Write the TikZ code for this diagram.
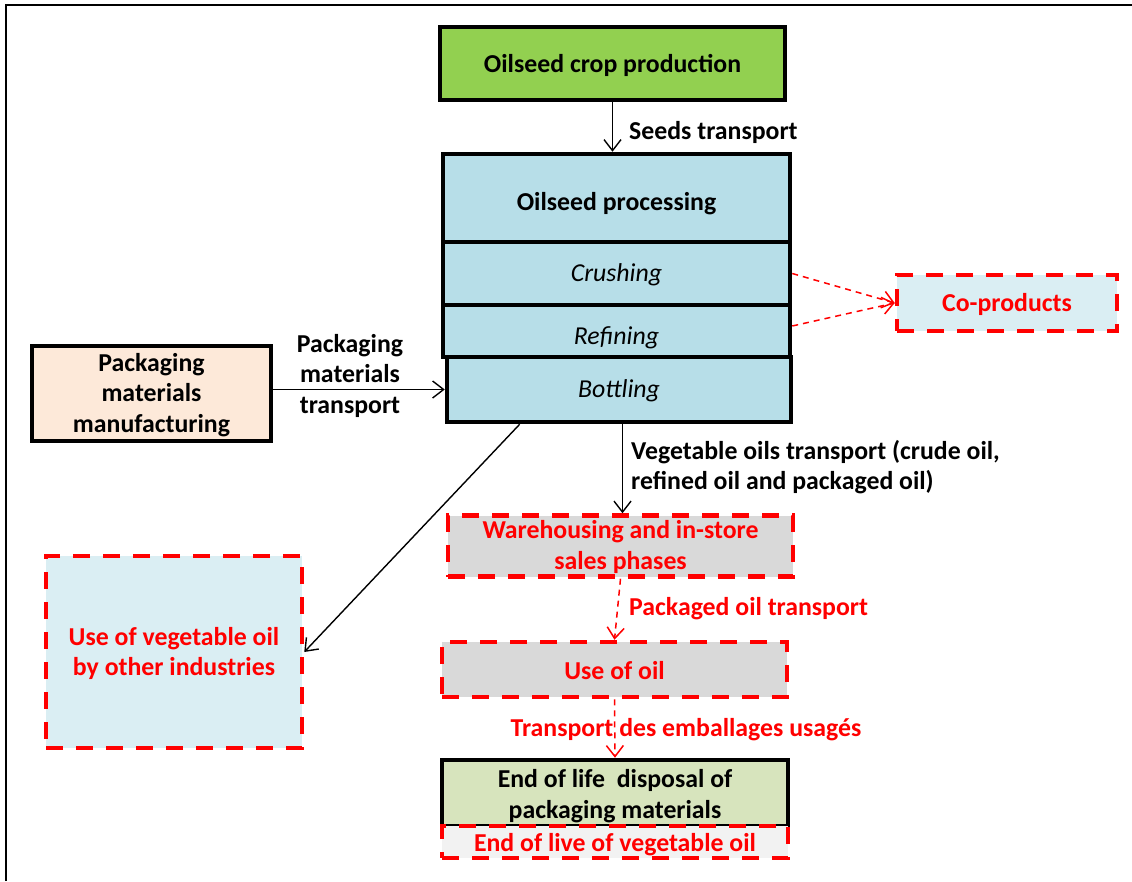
\documentclass[tikz,border=0pt]{standalone}
\usepackage{fontspec}
\setmainfont{Carlito}
\usetikzlibrary{arrows.meta,calc}
\definecolor{cropgreen}{HTML}{92D050}
\definecolor{procblue}{HTML}{B7DEE8}
\definecolor{paleblue}{HTML}{DAEEF3}
\definecolor{peach}{HTML}{FDE9D9}
\definecolor{boxgray}{HTML}{D9D9D9}
\definecolor{olive}{HTML}{D7E4BD}
\definecolor{lightgray}{HTML}{F2F2F2}
\definecolor{pured}{HTML}{FF0000}
\newcommand{\tsh}[2]{\raisebox{-#1}[\height][\depth]{\begin{tabular}{@{}c@{}}#2\end{tabular}}}
\tikzset{
  txt/.style={font=\fontsize{25.8}{30.5}\selectfont\bfseries, align=center, inner sep=0pt},
  solidbox/.style={txt, draw=black, line width=4.5pt},
  redbox/.style={txt, draw=pured, text=pured, line width=4.5pt, dash pattern=on 17pt off 13pt},
  subbox/.style={solidbox, font=\fontsize{25.8}{30.5}\selectfont\itshape},
  arr/.style={draw=black, line width=1.4pt, -{Straight Barb[length=11pt,width=17pt]}},
  redarr/.style={draw=pured, line width=1.5pt, dash pattern=on 6pt off 5pt, -{Straight Barb[length=11pt,width=17pt]}},
  lbl/.style={txt, text=black},
  redlbl/.style={txt, text=pured}
}
\begin{document}
\begin{tikzpicture}[x=1pt,y=-1pt]
\useasboundingbox (0,0) rectangle (1132,881);
\fill[white] (0,0) rectangle (1132,881);
\draw[line width=2pt] (6,881) -- (6,5) -- (1132,5);

\node[solidbox, fill=cropgreen, minimum width=345pt, minimum height=73pt] (crop) at (612.5,63.5) {\tsh{3pt}{Oilseed crop production}};
\node[solidbox, fill=procblue, minimum width=347pt, minimum height=88pt] (proc) at (616.5,198) {\tsh{6.5pt}{Oilseed processing}};
\node[subbox, fill=procblue, minimum width=347pt, minimum height=63pt] (crush) at (616.5,273.5) {\tsh{1.5pt}{Crushing}};
\node[subbox, fill=procblue, minimum width=347pt, minimum height=52pt] (refine) at (616.5,331) {\tsh{7.5pt}{Refining}};
\node[subbox, fill=procblue, minimum width=344pt, minimum height=65pt] (bottle) at (619,389.5) {\tsh{2pt}{Bottling}};

\node[redbox, fill=paleblue, minimum width=220pt, minimum height=56pt] (copro) at (1007,303) {\tsh{2.5pt}{Co-products}};
\node[solidbox, fill=peach, minimum width=239pt, minimum height=95pt] (pack) at (151.5,393.5) {\tsh{2pt}{Packaging\\materials\\manufacturing}};
\node[redbox, fill=paleblue, minimum width=256pt, minimum height=192pt] (usevo) at (174,652) {\tsh{2.5pt}{Use of vegetable oil\\by other industries}};
\node[redbox, fill=boxgray, minimum width=345pt, minimum height=60pt] (ware) at (620.5,546) {\tsh{2pt}{Warehousing and in-store\\sales phases}};
\node[redbox, fill=boxgray, minimum width=345pt, minimum height=55pt] (useoil) at (614.5,669.5) {\tsh{3.5pt}{Use of oil}};
\node[solidbox, fill=olive, minimum width=346pt, minimum height=66pt] (eol) at (615,793) {\tsh{4pt}{End of life\ \ disposal of\\packaging materials}};
\node[redbox, fill=lightgray, minimum width=346pt, minimum height=32pt] (eolv) at (615,842) {\tsh{3pt}{End of live of vegetable oil}};

\node[lbl, anchor=west] (seedlbl) at (629,132) {Seeds transport};
\node[lbl] (packlbl) at (350,375.5) {Packaging\\materials\\transport};
\node[lbl, anchor=west, align=left] (veglbl) at (631,467) {Vegetable oils transport (crude oil,\\refined oil and packaged oil)};
\node[redlbl, anchor=west] (pkglbl) at (629,609) {Packaged oil transport};
\node[redlbl] (translbl) at (686,729.5) {Transport des emballages usagés};

\draw[arr] (crop.south) -- (crop.south |- proc.north);
\draw[redarr] (crush.east) -- (copro.west);
\draw[redarr] ([yshift=5pt]refine.east) -- (copro.west);
\draw[arr] (pack.east |- bottle.west) -- (bottle.west);
\draw[arr] ($(bottle.south west)!0.215!(bottle.south east)$) -- (usevo.east);
\draw[arr] ([xshift=2pt]ware.north |- bottle.south) -- ([xshift=2pt]ware.north);
\draw[redarr] (ware.south) -- (useoil.north);
\draw[redarr] (useoil.south) -- (eol.north);
\end{tikzpicture}
\end{document}
